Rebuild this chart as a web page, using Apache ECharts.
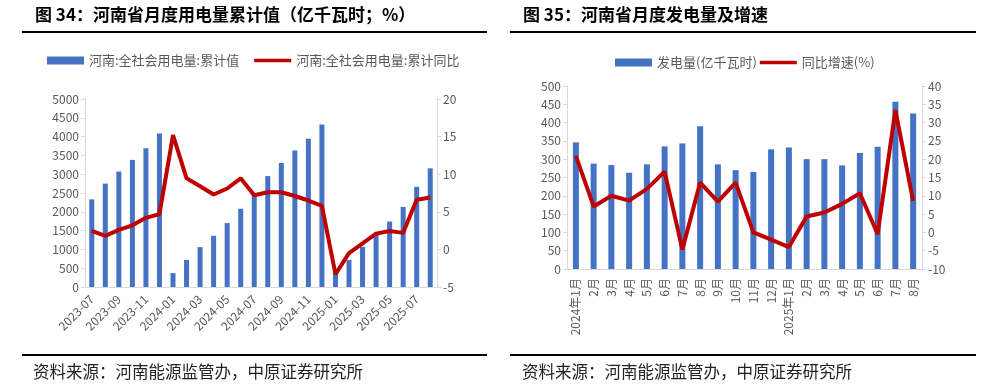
<!DOCTYPE html>
<html>
<head>
<meta charset="utf-8">
<script src="https://cdn.jsdelivr.net/npm/echarts@6/dist/echarts.min.js"></script>
<style>
html,body{margin:0;padding:0;background:#fff;}
#c{width:994px;height:389px;}
</style>
</head>
<body>
<div id="c"></div>
<script>
// ---- Left chart data (Figure 34) ----
const leftCats = ['2023-07','2023-08','2023-09','2023-10','2023-11','2023-12',
  '2024-01','2024-02','2024-03','2024-04','2024-05','2024-06','2024-07','2024-08','2024-09','2024-10','2024-11','2024-12',
  '2025-01','2025-02','2025-03','2025-04','2025-05','2025-06','2025-07','2025-08'];
const leftCum = [2330,2750,3070,3380,3690,4080,
  370,720,1060,1360,1700,2080,2500,2950,3300,3630,3940,4320,
  358,716,1068,1389,1740,2130,2665,3155];
const leftYoy = [2.45,1.8,2.6,3.2,4.2,4.7,
  15.2,9.45,8.4,7.3,8.1,9.45,7.2,7.6,7.6,7.1,6.5,5.8,
  -3.3,-0.5,0.8,2.1,2.45,2.2,6.6,6.9];
const leftNames = ['河南:全社会用电量:累计值','河南:全社会用电量:累计同比'];

// ---- Right chart data (Figure 35) ----
const rightCats = ['2024年1月','2月','3月','4月','5月','6月','7月','8月','9月','10月','11月','12月',
  '2025年1月','2月','3月','4月','5月','6月','7月','8月'];
const rightGen = [346,288,284,263,286,335,343,390,286,270,265,327,332,300,300,283,317,334,457,425];
const rightYoy = [20.9,7.1,10.0,8.7,11.9,16.6,-4.7,13.6,8.4,13.6,0.0,-2.0,-4.0,4.35,5.45,7.8,10.7,-0.45,33.4,8.6];
const rightNames = ['发电量(亿千瓦时)','同比增速(%)'];

const title1 = '图 34：河南省月度用电量累计值（亿千瓦时；%）';
const title2 = '图 35：河南省月度发电量及增速';
const sourceText = '资料来源：河南能源监管办，中原证券研究所';

const FONT = '"Noto Sans CJK SC", "Noto Sans", sans-serif';
const BAR = '#4472C4', RED = '#C00000', GRAY = '#595959', AX = '#D9D9D9';
const LINE_ICON = 'path://M0,0 M0,2 L40,2 L40,6 L0,6 Z M40,8';

const chart = echarts.init(document.getElementById('c'), null, {renderer:'canvas'});

function yAx(gi, min, max, interval, pos) {
  return {
    type:'value', gridIndex:gi, min:min, max:max, interval:interval, position:pos,
    axisLine:{show:true, lineStyle:{color:AX}},
    axisTick:{show:true, length:4, lineStyle:{color:AX}},
    splitLine:{show:false},
    axisLabel:{color:GRAY, fontSize:12, fontFamily:FONT, margin:6, formatter:function(v){return String(v);}}
  };
}

const option = {
  animation:false,
  backgroundColor:'#fff',
  textStyle:{fontFamily:FONT},
  grid:[
    {left:85, right:557, top:99, bottom:102, containLabel:false},
    {left:567, right:72, top:86, bottom:120, containLabel:false}
  ],
  legend:[
    {left:47, top:54, padding:0, itemWidth:37, itemHeight:8, itemGap:15,
     textStyle:{color:GRAY, fontSize:13, fontFamily:FONT},
     data:[{name:leftNames[0], icon:'rect'}, {name:leftNames[1], icon:LINE_ICON}]},
    {left:615, top:56, padding:0, itemWidth:37, itemHeight:8, itemGap:3,
     textStyle:{color:GRAY, fontSize:13, fontFamily:FONT},
     data:[{name:rightNames[0], icon:'rect'}, {name:rightNames[1], icon:LINE_ICON}]}
  ],
  xAxis:[
    {type:'category', gridIndex:0, data:leftCats, boundaryGap:true,
     axisLine:{lineStyle:{color:AX}}, axisTick:{show:false},
     axisLabel:{color:GRAY, fontSize:12, fontFamily:FONT, rotate:45, interval:1, margin:10}},
    {type:'category', gridIndex:1, data:rightCats, boundaryGap:true,
     axisLine:{lineStyle:{color:AX}}, axisTick:{show:false},
     axisLabel:{color:GRAY, fontSize:12, fontFamily:FONT, rotate:90, interval:0, margin:9}}
  ],
  yAxis:[
    yAx(0, 0, 5000, 500, 'left'),
    yAx(0, -5, 20, 5, 'right'),
    yAx(1, 0, 500, 50, 'left'),
    yAx(1, -10, 40, 5, 'right')
  ],
  series:[
    {name:leftNames[0], type:'bar', xAxisIndex:0, yAxisIndex:0, data:leftCum,
     barWidth:5, itemStyle:{color:BAR}},
    {name:leftNames[1], type:'line', xAxisIndex:0, yAxisIndex:1, data:leftYoy,
     symbol:'none', lineStyle:{color:RED, width:4}, itemStyle:{color:RED}},
    {name:rightNames[0], type:'bar', xAxisIndex:1, yAxisIndex:2, data:rightGen,
     barWidth:6, itemStyle:{color:BAR}},
    {name:rightNames[1], type:'line', xAxisIndex:1, yAxisIndex:3, data:rightYoy,
     symbol:'none', lineStyle:{color:RED, width:4}, itemStyle:{color:RED}}
  ],
  graphic:[
    {type:'text', left:35, top:6, style:{text:title1, fill:'#000', font:'bold 17px '+FONT}},
    {type:'text', left:523, top:6, style:{text:title2, fill:'#000', font:'bold 17px '+FONT}},
    {type:'rect', shape:{x:22, y:31, width:465, height:2}, style:{fill:'#000'}},
    {type:'rect', shape:{x:510, y:31, width:466, height:2}, style:{fill:'#000'}},
    {type:'rect', shape:{x:22, y:354, width:465, height:2}, style:{fill:'#000'}},
    {type:'rect', shape:{x:510, y:354, width:466, height:2}, style:{fill:'#000'}},
    {type:'text', left:33, top:363, style:{text:sourceText, fill:'#222', font:'16.5px '+FONT}},
    {type:'text', left:522, top:363, style:{text:sourceText, fill:'#222', font:'16.5px '+FONT}}
  ]
};
chart.setOption(option);
</script>
</body>
</html>
